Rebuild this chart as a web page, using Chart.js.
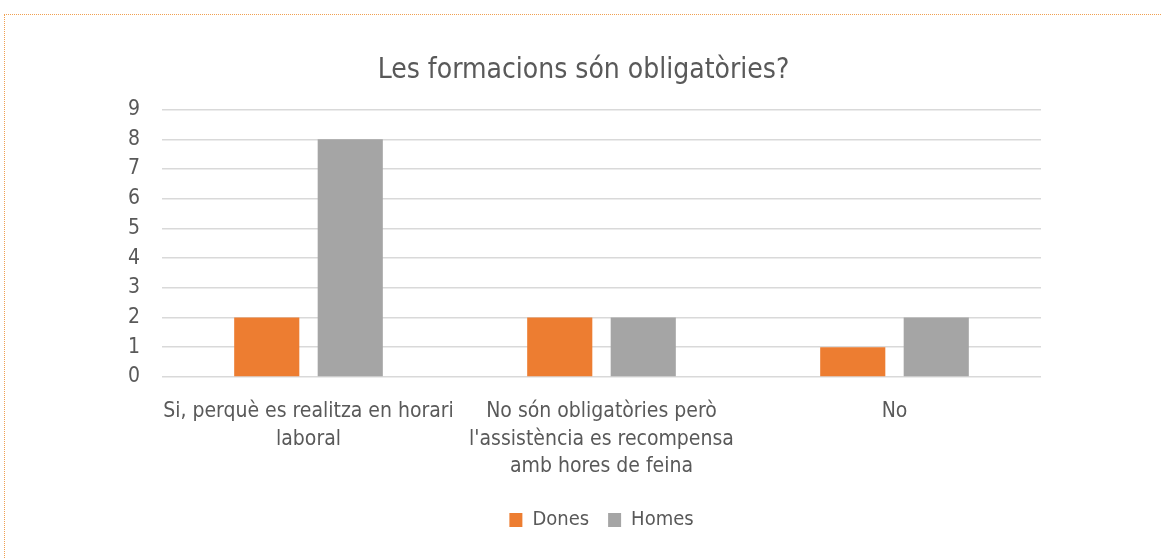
<!DOCTYPE html>
<html>
<head>
<meta charset="utf-8">
<script src="https://cdn.jsdelivr.net/npm/chart.js@4.4.1/dist/chart.umd.min.js"></script>
<style>
  html, body { margin: 0; padding: 0; background: #fff; }
  #wrap { position: relative; width: 1161px; height: 558px; }
  #frame { position: absolute; left: 4px; top: 14px; right: 0; bottom: 0;
           border-top: 1px dotted #f0a050; border-left: 1px dotted #f0a050; }
  canvas { position: absolute; left: 0; top: 0; }
</style>
</head>
<body>
<div id="wrap">
  <div id="frame"></div>
  <canvas id="chart" width="1161" height="558"></canvas>
</div>
<script>
const categories = [
  ['Si, perquè es realitza en horari', 'laboral'],
  ['No són obligatòries però', "l'assistència es recompensa", 'amb hores de feina'],
  'No'
];
const dones = [2, 2, 1];
const homes = [8, 2, 2];
const seriesNames = ['Dones', 'Homes'];

const FONT = "'DejaVu Sans Condensed', 'Liberation Sans Narrow', 'DejaVu Sans', sans-serif";
const TXT = '#595959';

Chart.defaults.font.family = FONT;
Chart.defaults.color = TXT;

new Chart(document.getElementById('chart').getContext('2d'), {
  type: 'bar',
  data: {
    labels: categories,
    datasets: [
      { label: seriesNames[0], data: dones, backgroundColor: '#ed7d31' },
      { label: seriesNames[1], data: homes, backgroundColor: '#a5a5a5' }
    ]
  },
  options: {
    responsive: false,
    animation: false,
    categoryPercentage: 0.57,
    barPercentage: 0.78,
    layout: { padding: { left: 126, right: 120, top: 41, bottom: 18 } },
    plugins: {
      title: { display: true, text: 'Les formacions són obligatòries?', color: TXT,
               font: { size: 28, weight: 'normal' }, padding: { top: 13, bottom: 22 } },
      legend: { position: 'bottom', fullSize: false,
                labels: { boxWidth: 13, boxHeight: 14, padding: 19, font: { size: 20 } } },
      tooltip: { enabled: false }
    },
    scales: {
      x: {
        grid: { display: false },
        border: { display: false },
        ticks: { font: { size: 21, lineHeight: 1.31 }, padding: 13, maxRotation: 0, autoSkip: false },
        afterFit: s => { s.height = 114; }
      },
      y: {
        min: 0, max: 9,
        grid: { color: '#d9d9d9', lineWidth: 1.6, drawTicks: false },
        border: { display: false },
        ticks: { stepSize: 1, font: { size: 21 }, padding: 22 },
        afterFit: s => { s.width = 36; }
      }
    }
  }
});
</script>
</body>
</html>
